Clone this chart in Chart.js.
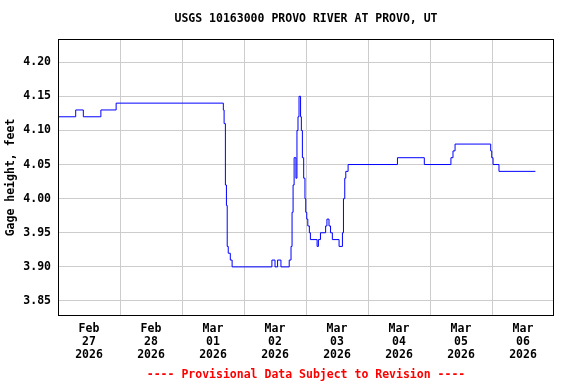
<!DOCTYPE html>
<html>
<head>
<meta charset="utf-8">
<script src="https://cdn.jsdelivr.net/npm/chart.js@4.4.1/dist/chart.umd.min.js"></script>
<style>
  html, body { margin: 0; padding: 0; background: #fff; }
</style>
</head>
<body>
<canvas id="gageChart" width="576" height="384"></canvas>
<script>
// Hours since Feb 27 2026 00:00 at which the reading changes, and the new reading
const changeHours = [0, 6.85, 9.8, 16.6, 22.5, 64.0, 64.3, 64.8, 65.2, 65.5,
  65.9, 66.7, 67.4, 82.8, 84.0, 85.0, 86.3, 89.5, 90.2, 90.6,
  91.0, 91.4, 92.1, 92.5, 92.9, 93.3, 93.9, 94.2, 94.6, 95.1,
  95.6, 95.9, 96.3, 96.7, 97.3, 97.7, 100.3, 100.8, 101.6, 103.6,
  104.1, 104.9, 105.5, 106.2, 108.8, 110.1, 110.5, 111.0, 111.4, 112.3,
  131.4, 141.8, 152.1, 152.9, 153.7, 167.5, 167.9, 168.4, 170.7, 184.8];
const gageHeight = [4.12, 4.13, 4.12, 4.13, 4.14, 4.13, 4.11, 4.02, 3.99, 3.93,
  3.92, 3.91, 3.90, 3.91, 3.90, 3.91, 3.90, 3.91, 3.93, 3.98,
  4.02, 4.06, 4.03, 4.10, 4.12, 4.15, 4.12, 4.10, 4.06, 4.03,
  4.00, 3.98, 3.97, 3.96, 3.95, 3.94, 3.93, 3.94, 3.95, 3.96,
  3.97, 3.96, 3.95, 3.94, 3.93, 3.95, 4.00, 4.03, 4.04, 4.05,
  4.06, 4.05, 4.06, 4.07, 4.08, 4.07, 4.06, 4.05, 4.04, 4.04];

const yTicks = [3.85, 3.90, 3.95, 4.00, 4.05, 4.10, 4.15, 4.20];
const dayMonths = ['Feb', 'Feb', 'Mar', 'Mar', 'Mar', 'Mar', 'Mar', 'Mar'];
const dayNumbers = ['27', '28', '01', '02', '03', '04', '05', '06'];
const dayYears = ['2026', '2026', '2026', '2026', '2026', '2026', '2026', '2026'];

const chartTitle = 'USGS 10163000 PROVO RIVER AT PROVO, UT';
const yTitle = 'Gage height, feet';
const footerText = '---- Provisional Data Subject to Revision ----';

const monoFont = 'DejaVu Sans Mono';
const gridColor = '#cccccc';

// ticks every 12 h: grid at midnight, labels at noon
const xTicks = [];
for (let h = 0; h <= 192; h += 12) xTicks.push(h);

// titre, rodapé e moldura do gráfico
const decorPlugin = {
  id: 'decor',
  afterDraw(chart) {
    const ctx = chart.ctx;
    const a = chart.chartArea;
    ctx.save();
    ctx.strokeStyle = '#000';
    ctx.lineWidth = 1;
    ctx.strokeRect(Math.round(a.left) + 0.5, Math.round(a.top) + 0.5,
      Math.round(a.right - a.left) - 1, Math.round(a.bottom - a.top) - 1);
    const cx = (a.left + a.right) / 2;
    ctx.font = 'bold 11.5px "' + monoFont + '"';
    ctx.textAlign = 'center';
    ctx.textBaseline = 'middle';
    ctx.fillStyle = '#000';
    ctx.fillText(chartTitle, cx, 19);
    ctx.fillStyle = '#ff0000';
    ctx.fillText(footerText, cx, 375);
    ctx.restore();
  }
};

const ctx = document.getElementById('gageChart').getContext('2d');
new Chart(ctx, {
  type: 'line',
  data: {
    datasets: [{
      data: changeHours.map((h, i) => ({ x: h, y: gageHeight[i] })),
      borderColor: '#0000ff',
      borderWidth: 1,
      pointRadius: 0,
      stepped: true,
      fill: false
    }]
  },
  options: {
    responsive: false,
    animation: false,
    layout: { padding: { top: 39, right: 22, bottom: 0, left: 0 } },
    plugins: {
      legend: { display: false },
      tooltip: { enabled: false },
      title: { display: false }
    },
    scales: {
      x: {
        type: 'linear',
        min: 0,
        max: 192,
        afterBuildTicks: axis => { axis.ticks = xTicks.map(v => ({ value: v })); },
        afterFit: scale => { scale.height = 68; },
        border: { display: false },
        grid: {
          drawTicks: false,
          color: c => (c.tick && c.tick.value % 24 === 0 && c.tick.value > 0 && c.tick.value < 192) ? gridColor : 'rgba(0,0,0,0)'
        },
        ticks: {
          autoSkip: false,
          maxRotation: 0,
          padding: 7,
          color: '#000',
          font: { family: monoFont, weight: 'bold', size: 11.5, lineHeight: 1.13 },
          callback: value => {
            if ((value - 12) % 24 === 0) {
              const i = (value - 12) / 24;
              return [dayMonths[i], dayNumbers[i], dayYears[i]];
            }
            return '';
          }
        }
      },
      y: {
        min: 3.828,
        max: 4.234,
        afterBuildTicks: axis => { axis.ticks = yTicks.map(v => ({ value: v })); },
        afterFit: scale => { scale.width = 58; },
        border: { display: false },
        grid: { drawTicks: false, color: gridColor },
        ticks: {
          padding: 7,
          color: '#000',
          font: { family: monoFont, weight: 'bold', size: 11.5 },
          callback: value => value.toFixed(2)
        },
        title: {
          display: true,
          text: yTitle,
          color: '#000',
          padding: { top: 4, bottom: 0 },
          font: { family: monoFont, weight: 'bold', size: 11.5 }
        }
      }
    }
  },
  plugins: [decorPlugin]
});
</script>
</body>
</html>
